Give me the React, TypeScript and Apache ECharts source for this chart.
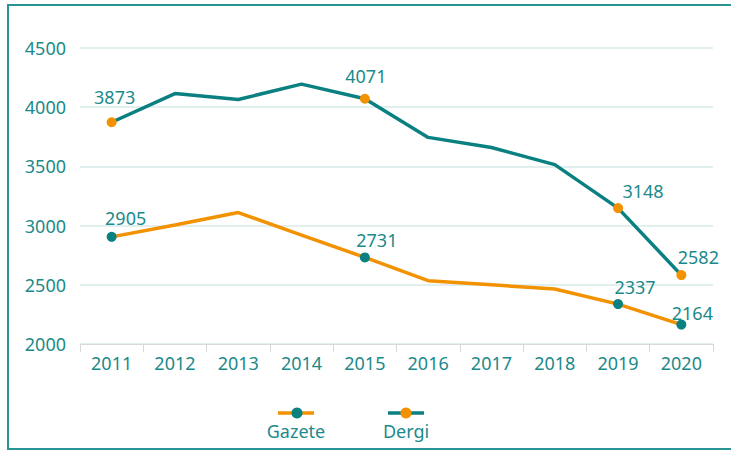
import React, { useEffect, useRef } from "react";
import * as echarts from "echarts";

const years = ["2011", "2012", "2013", "2014", "2015", "2016", "2017", "2018", "2019", "2020"];
const gazete = [2905, 3005, 3110, 2920, 2731, 2535, 2500, 2465, 2337, 2164];
const dergi = [3873, 4115, 4065, 4195, 4071, 3745, 3660, 3515, 3148, 2582];
const labeledIdx = [0, 4, 8, 9];
const yTicks = { min: 2000, max: 4500, interval: 500 };

const TEAL = "#0A8080";
const ORANGE = "#F39200";
const TEXT = "#1B8A8A";
const FONT = "Noto Sans";

// label offsets (dx, dy) of label centre relative to point, per labelled index
const dergiOff: Record<number, [number, number]> = { 0: [3, -25], 4: [1, -23], 8: [25, -17], 9: [17, -18] };
const gazeteOff: Record<number, [number, number]> = { 0: [14, -19], 4: [12, -17], 8: [17, -17], 9: [11, -12] };

function buildData(vals: number[], off: Record<number, [number, number]>, markerColor: string) {
  return vals.map((v, i) => {
    if (labeledIdx.indexOf(i) >= 0) {
      const [dx, dy] = off[i];
      return {
        value: v,
        symbol: "circle",
        symbolSize: 10,
        itemStyle: { color: markerColor },
        label: {
          show: true,
          position: [5 + dx, 5 + dy],
          align: "center",
          verticalAlign: "middle",
          color: TEXT,
          fontSize: 18,
          fontFamily: FONT,
          formatter: String(v),
        },
      };
    }
    return { value: v, symbol: "none", symbolSize: 0, label: { show: false } };
  });
}

export default function App() {
  const ref = useRef<HTMLDivElement>(null);
  useEffect(() => {
    if (!ref.current) return;
    const chart = echarts.init(ref.current, null, { renderer: "svg" });
    chart.setOption({
      animation: false,
      backgroundColor: "#ffffff",
      grid: { left: 80, right: 18, top: 48, bottom: 107 },
      xAxis: {
        type: "category",
        data: years,
        boundaryGap: true,
        axisLine: { lineStyle: { color: "#D9D9D9", width: 1 } },
        axisTick: { show: true, length: 8, interval: 0, lineStyle: { color: "#D9D9D9" } },
        axisLabel: { color: TEXT, fontSize: 18, fontFamily: FONT, margin: 10, interval: 0 },
      },
      yAxis: {
        type: "value",
        min: yTicks.min,
        max: yTicks.max,
        interval: yTicks.interval,
        axisLine: { show: false },
        axisTick: { show: false },
        splitLine: { lineStyle: { color: "#E2EFEF", width: 2 } },
        axisLabel: { color: TEXT, fontSize: 18, fontFamily: FONT, margin: 14, formatter: (v: number) => String(v) },
      },
      series: [
        {
          name: "Gazete",
          type: "line",
          data: buildData(gazete, gazeteOff, TEAL),
          lineStyle: { color: ORANGE, width: 3.5 },
          itemStyle: { color: TEAL },
          z: 2,
        },
        {
          name: "Dergi",
          type: "line",
          data: buildData(dergi, dergiOff, ORANGE),
          lineStyle: { color: TEAL, width: 3.5 },
          itemStyle: { color: ORANGE },
          z: 3,
        },
      ],
      graphic: [
        {
          type: "rect",
          shape: { x: 8, y: 5, width: 800, height: 444 },
          style: { fill: "none", stroke: "#2A9494", lineWidth: 2 },
          silent: true,
        },
        { type: "line", shape: { x1: 278, y1: 413, x2: 314, y2: 413 }, style: { stroke: ORANGE, lineWidth: 3.5 } },
        { type: "circle", shape: { cx: 297, cy: 413, r: 5.5 }, style: { fill: TEAL } },
        {
          type: "text",
          x: 296,
          y: 431,
          style: { text: "Gazete", fill: TEXT, fontSize: 18, fontFamily: FONT, align: "center", verticalAlign: "middle" },
        },
        { type: "line", shape: { x1: 388, y1: 413, x2: 424, y2: 413 }, style: { stroke: TEAL, lineWidth: 3.5 } },
        { type: "circle", shape: { cx: 406, cy: 413, r: 5.5 }, style: { fill: ORANGE } },
        {
          type: "text",
          x: 406,
          y: 431,
          style: { text: "Dergi", fill: TEXT, fontSize: 18, fontFamily: FONT, align: "center", verticalAlign: "middle" },
        },
      ],
    });
    return () => chart.dispose();
  }, []);
  return (
    <div
      ref={ref}
      style={{ position: "absolute", left: 0, top: 0, width: 731, height: 451 }}
    />
  );
}
